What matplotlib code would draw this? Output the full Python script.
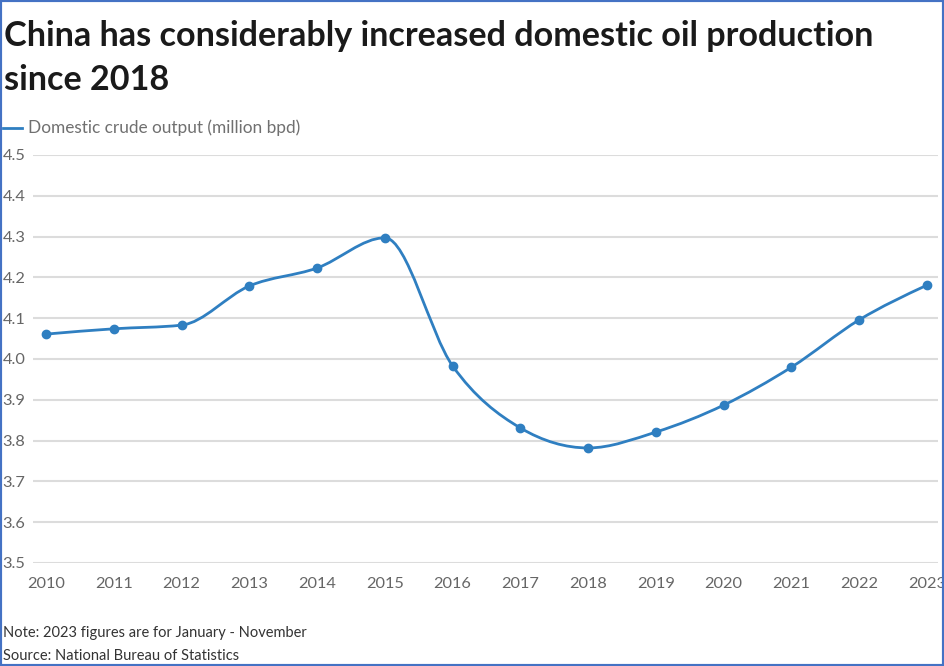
import numpy as np
import matplotlib.pyplot as plt
from matplotlib.path import Path
from matplotlib.patches import PathPatch, Rectangle

# data
years = [2010, 2011, 2012, 2013, 2014, 2015, 2016, 2017, 2018, 2019, 2020, 2021, 2022, 2023]
output = [4.061, 4.074, 4.083, 4.179, 4.223, 4.297, 3.983, 3.831, 3.782, 3.821, 3.887, 3.980, 4.096, 4.181]
yticks = [3.5, 3.6, 3.7, 3.8, 3.9, 4.0, 4.1, 4.2, 4.3, 4.4, 4.5]

title_lines = ["China has considerably increased domestic oil production", "since 2018"]
series_name = "Domestic crude output (million bpd)"
note = "Note: 2023 figures are for January - November"
source = "Source: National Bureau of Statistics"

LINE = "#2f7fc1"
W, H = 944, 666
plt.rcParams['font.family'] = ['Lato', 'DejaVu Sans']


def monotone_path(xs, ys):
    # same idea as d3 curveMonotoneX: cubic bezier segments with monotone tangents
    xs = np.asarray(xs, float)
    ys = np.asarray(ys, float)
    n = len(xs)
    h = np.diff(xs)
    s = np.diff(ys) / h
    t = np.zeros(n)
    for i in range(1, n - 1):
        p = (s[i - 1] * h[i] + s[i] * h[i - 1]) / (h[i - 1] + h[i])
        t[i] = (np.sign(s[i - 1]) + np.sign(s[i])) * min(abs(s[i - 1]), abs(s[i]), 0.5 * abs(p))
    t[0] = (3 * s[0] - t[1]) / 2
    t[-1] = (3 * s[-1] - t[-2]) / 2
    verts = [(xs[0], ys[0])]
    codes = [Path.MOVETO]
    for i in range(n - 1):
        dx = h[i] / 3
        verts += [(xs[i] + dx, ys[i] + dx * t[i]),
                  (xs[i + 1] - dx, ys[i + 1] - dx * t[i + 1]),
                  (xs[i + 1], ys[i + 1])]
        codes += [Path.CURVE4] * 3
    return Path(verts, codes)


fig = plt.figure(figsize=(W / 100, H / 100), dpi=100)
ax = fig.add_axes([33 / W, 1 - 563 / H, (938 - 33) / W, (563 - 155) / H])

x0px, x1px = 46, 927
step = (x1px - x0px) / 13
ax.set_xlim(2010 - (46 - 33) / step, 2023 + (938 - 927) / step)
ax.set_ylim(3.5, 4.5)

ax.add_patch(PathPatch(monotone_path(years, output), fill=False, edgecolor=LINE, lw=2, zorder=3))
ax.scatter(years, output, s=36, color=LINE, zorder=4, clip_on=False)

ax.set_yticks(yticks)
ax.set_yticklabels([f"{v:.1f}" for v in yticks])
for lab in ax.get_yticklabels():
    lab.set_ha('left')
ax.set_xticks(years)
ax.set_xticklabels([str(y) for y in years])
ax.tick_params(axis='y', length=0, pad=22, labelsize=11.8, labelcolor='#666666')
ax.tick_params(axis='x', length=0, pad=10, labelsize=11.8, labelcolor='#666666')
ax.grid(axis='y', color='#dcdcdc', lw=1.5)
ax.set_axisbelow(True)
for sp in ax.spines.values():
    sp.set_visible(False)

# title, two lines with fixed baselines
for line, base in zip(title_lines, [46, 90]):
    fig.text(4 / W, 1 - base / H, line, fontsize=24.6, fontweight='bold', color='#1a1a1a',
             va='baseline', ha='left')

# legend line + label
fig.add_artist(plt.Line2D([3 / W, 22 / W], [1 - 128 / H] * 2, color=LINE, lw=2))
fig.text(28 / W, 1 - 128 / H, series_name, fontsize=12.4, color='#707070', va='center', ha='left')

fig.text(3 / W, 1 - 633 / H, note, fontsize=10.5, color='#333333', va='center', ha='left')
fig.text(3 / W, 1 - 656 / H, source, fontsize=10.5, color='#333333', va='center', ha='left')

fig.add_artist(Rectangle((0, 0), 1, 1, transform=fig.transFigure, fill=False,
                         edgecolor='#4472c4', lw=3, clip_on=False))

fig.savefig("out.png", dpi=100)
